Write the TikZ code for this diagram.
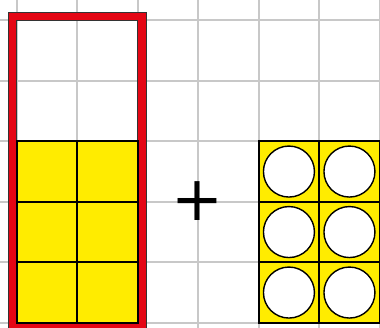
\documentclass[tikz,border=0pt]{standalone}
\usepackage{fontspec}
\newfontfamily\plusfont{DejaVu Sans}
\definecolor{gridgray}{RGB}{200,200,200}
\definecolor{framered}{RGB}{228,6,20}
\definecolor{cellyellow}{RGB}{255,236,0}
\begin{document}
\begin{tikzpicture}[x=1pt,y=-1pt,
  gridline/.style={draw=gridgray, line width=1.9pt},
  framefill/.style={fill=framered, even odd rule},
  frameedge/.style={draw=black!80, line width=1pt},
  cellbox/.style={fill=cellyellow, draw=black, line width=2pt},
  counter/.style={fill=white, draw=black, line width=1.4pt},
  plussign/.style={font=\plusfont\fontsize{62}{62}\selectfont, inner sep=0pt}]
\useasboundingbox (0,0) rectangle (380,327);
\clip (0,0) rectangle (380,327);
\fill[white] (0,0) rectangle (380,327);
% grid
\foreach \k in {-1,...,6} {
  \draw[gridline] ({16.7+60.5*\k},-5) -- ({16.7+60.5*\k},335);
  \draw[gridline] (-5,{20.3+60.5*\k}) -- (385,{20.3+60.5*\k});
}
% red frame
\fill[framefill] (8,12) rectangle (146,331.3) (16.7,20.3) rectangle (137.7,322.8);
\draw[frameedge] (8,12) rectangle (146,331.3);
\draw[frameedge] (16.7,20.3) rectangle (137.7,322.8);
% yellow cells in frame
\foreach \c in {0,1} \foreach \r in {0,1,2} {
  \draw[cellbox] ({16.7+60.5*\c},{141.3+60.5*\r}) rectangle ++(60.5,60.5);
}
% right block with counters
\foreach \c in {0,1} \foreach \r in {0,1,2} {
  \draw[cellbox] ({258.7+60.5*\c},{141.3+60.5*\r}) rectangle ++(60.5,60.5);
  \node[counter, circle, minimum size=51pt, inner sep=0pt] (ctr\c\r) at ({258.7+60.5*\c+30.25},{141.3+60.5*\r+30.25}) {};
}
% plus
\node[plussign] (plus) at (197.5,201) {+};
\end{tikzpicture}
\end{document}
